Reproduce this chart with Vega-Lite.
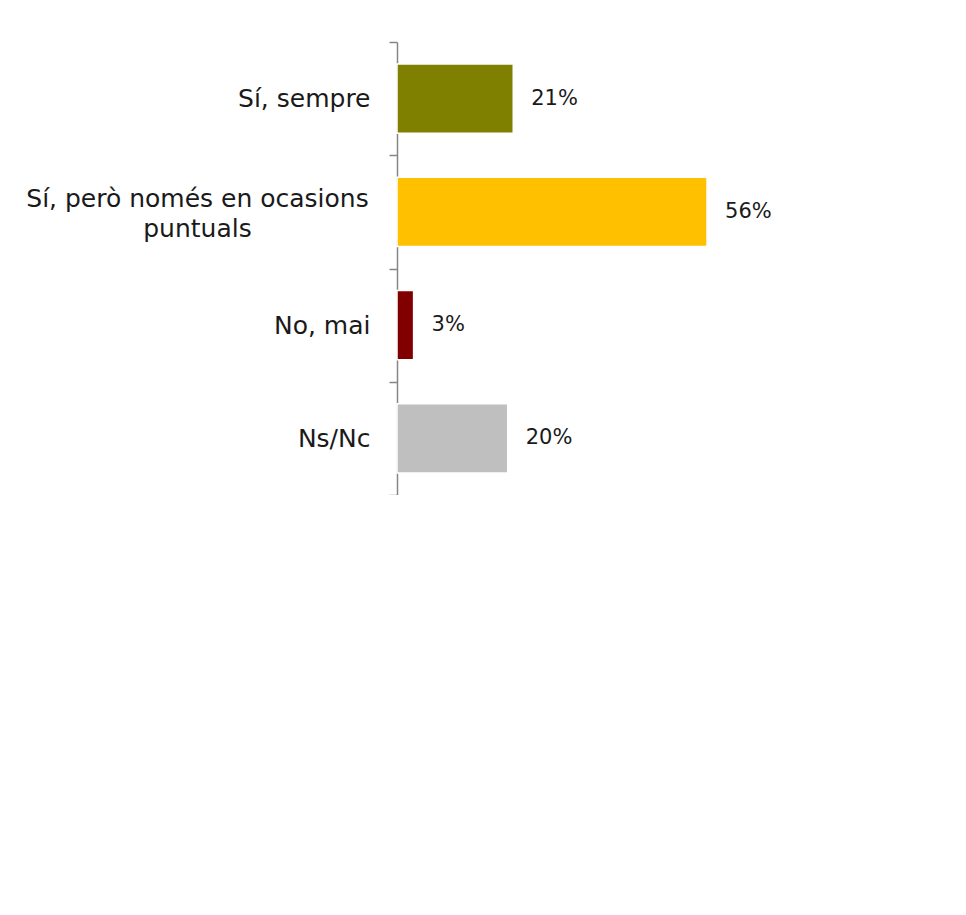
{
  "$schema": "https://vega.github.io/schema/vega-lite/v6.json",
  "autosize": "none",
  "padding": {"left": 397, "top": 42, "right": 0, "bottom": 0},
  "width": 569,
  "height": 453,
  "background": "white",
  "config": {"view": {"stroke": null}, "font": "DejaVu Sans"},
  "data": {"values": [
    {"resposta": "Sí, sempre", "valor": 0.21, "color": "#808000"},
    {"resposta": "Sí, però només en ocasions puntuals", "valor": 0.56, "color": "#FFC000"},
    {"resposta": "No, mai", "valor": 0.03, "color": "#800000"},
    {"resposta": "Ns/Nc", "valor": 0.20, "color": "#BFBFBF"}
  ]},
  "encoding": {
    "y": {"field": "resposta", "type": "nominal", "sort": null,
      "scale": {"paddingInner": 0, "paddingOuter": 0},
      "axis": {"title": null, "domainColor": "#868686", "domainWidth": 1.5, "tickColor": "#868686", "tickWidth": 1.5, "tickSize": 8, "tickBand": "extent",
        "labelFont": "DejaVu Sans", "labelFontSize": 25, "labelColor": "#1a1a1a", "labelLimit": 400, "labelLineHeight": 30,
        "labelPadding": {"condition": {"test": "datum.value == 'Sí, però només en ocasions puntuals'", "value": 192}, "value": 19},
        "labelAlign": {"condition": {"test": "datum.value == 'Sí, però només en ocasions puntuals'", "value": "center"}, "value": "right"},
        "labelOffset": {"condition": {"test": "datum.value == 'Sí, però només en ocasions puntuals'", "value": -13}, "value": 0},
        "labelExpr": "datum.value == 'Sí, però només en ocasions puntuals' ? ['Sí, però només en ocasions', 'puntuals'] : datum.value"}},
    "x": {"field": "valor", "type": "quantitative", "scale": {"domain": [0, 1.0278]}, "axis": null}
  },
  "layer": [
    {"mark": {"type": "bar", "stroke": "white", "strokeWidth": 1.5, "height": {"band": 0.61}},
     "encoding": {"color": {"field": "color", "type": "nominal", "scale": null, "legend": null}}},
    {"mark": {"type": "text", "align": "left", "baseline": "middle", "dx": 18, "fontSize": 21, "font": "DejaVu Sans", "color": "#1a1a1a"},
     "encoding": {"text": {"field": "valor", "type": "quantitative", "format": ".0%"}}}
  ]
}
